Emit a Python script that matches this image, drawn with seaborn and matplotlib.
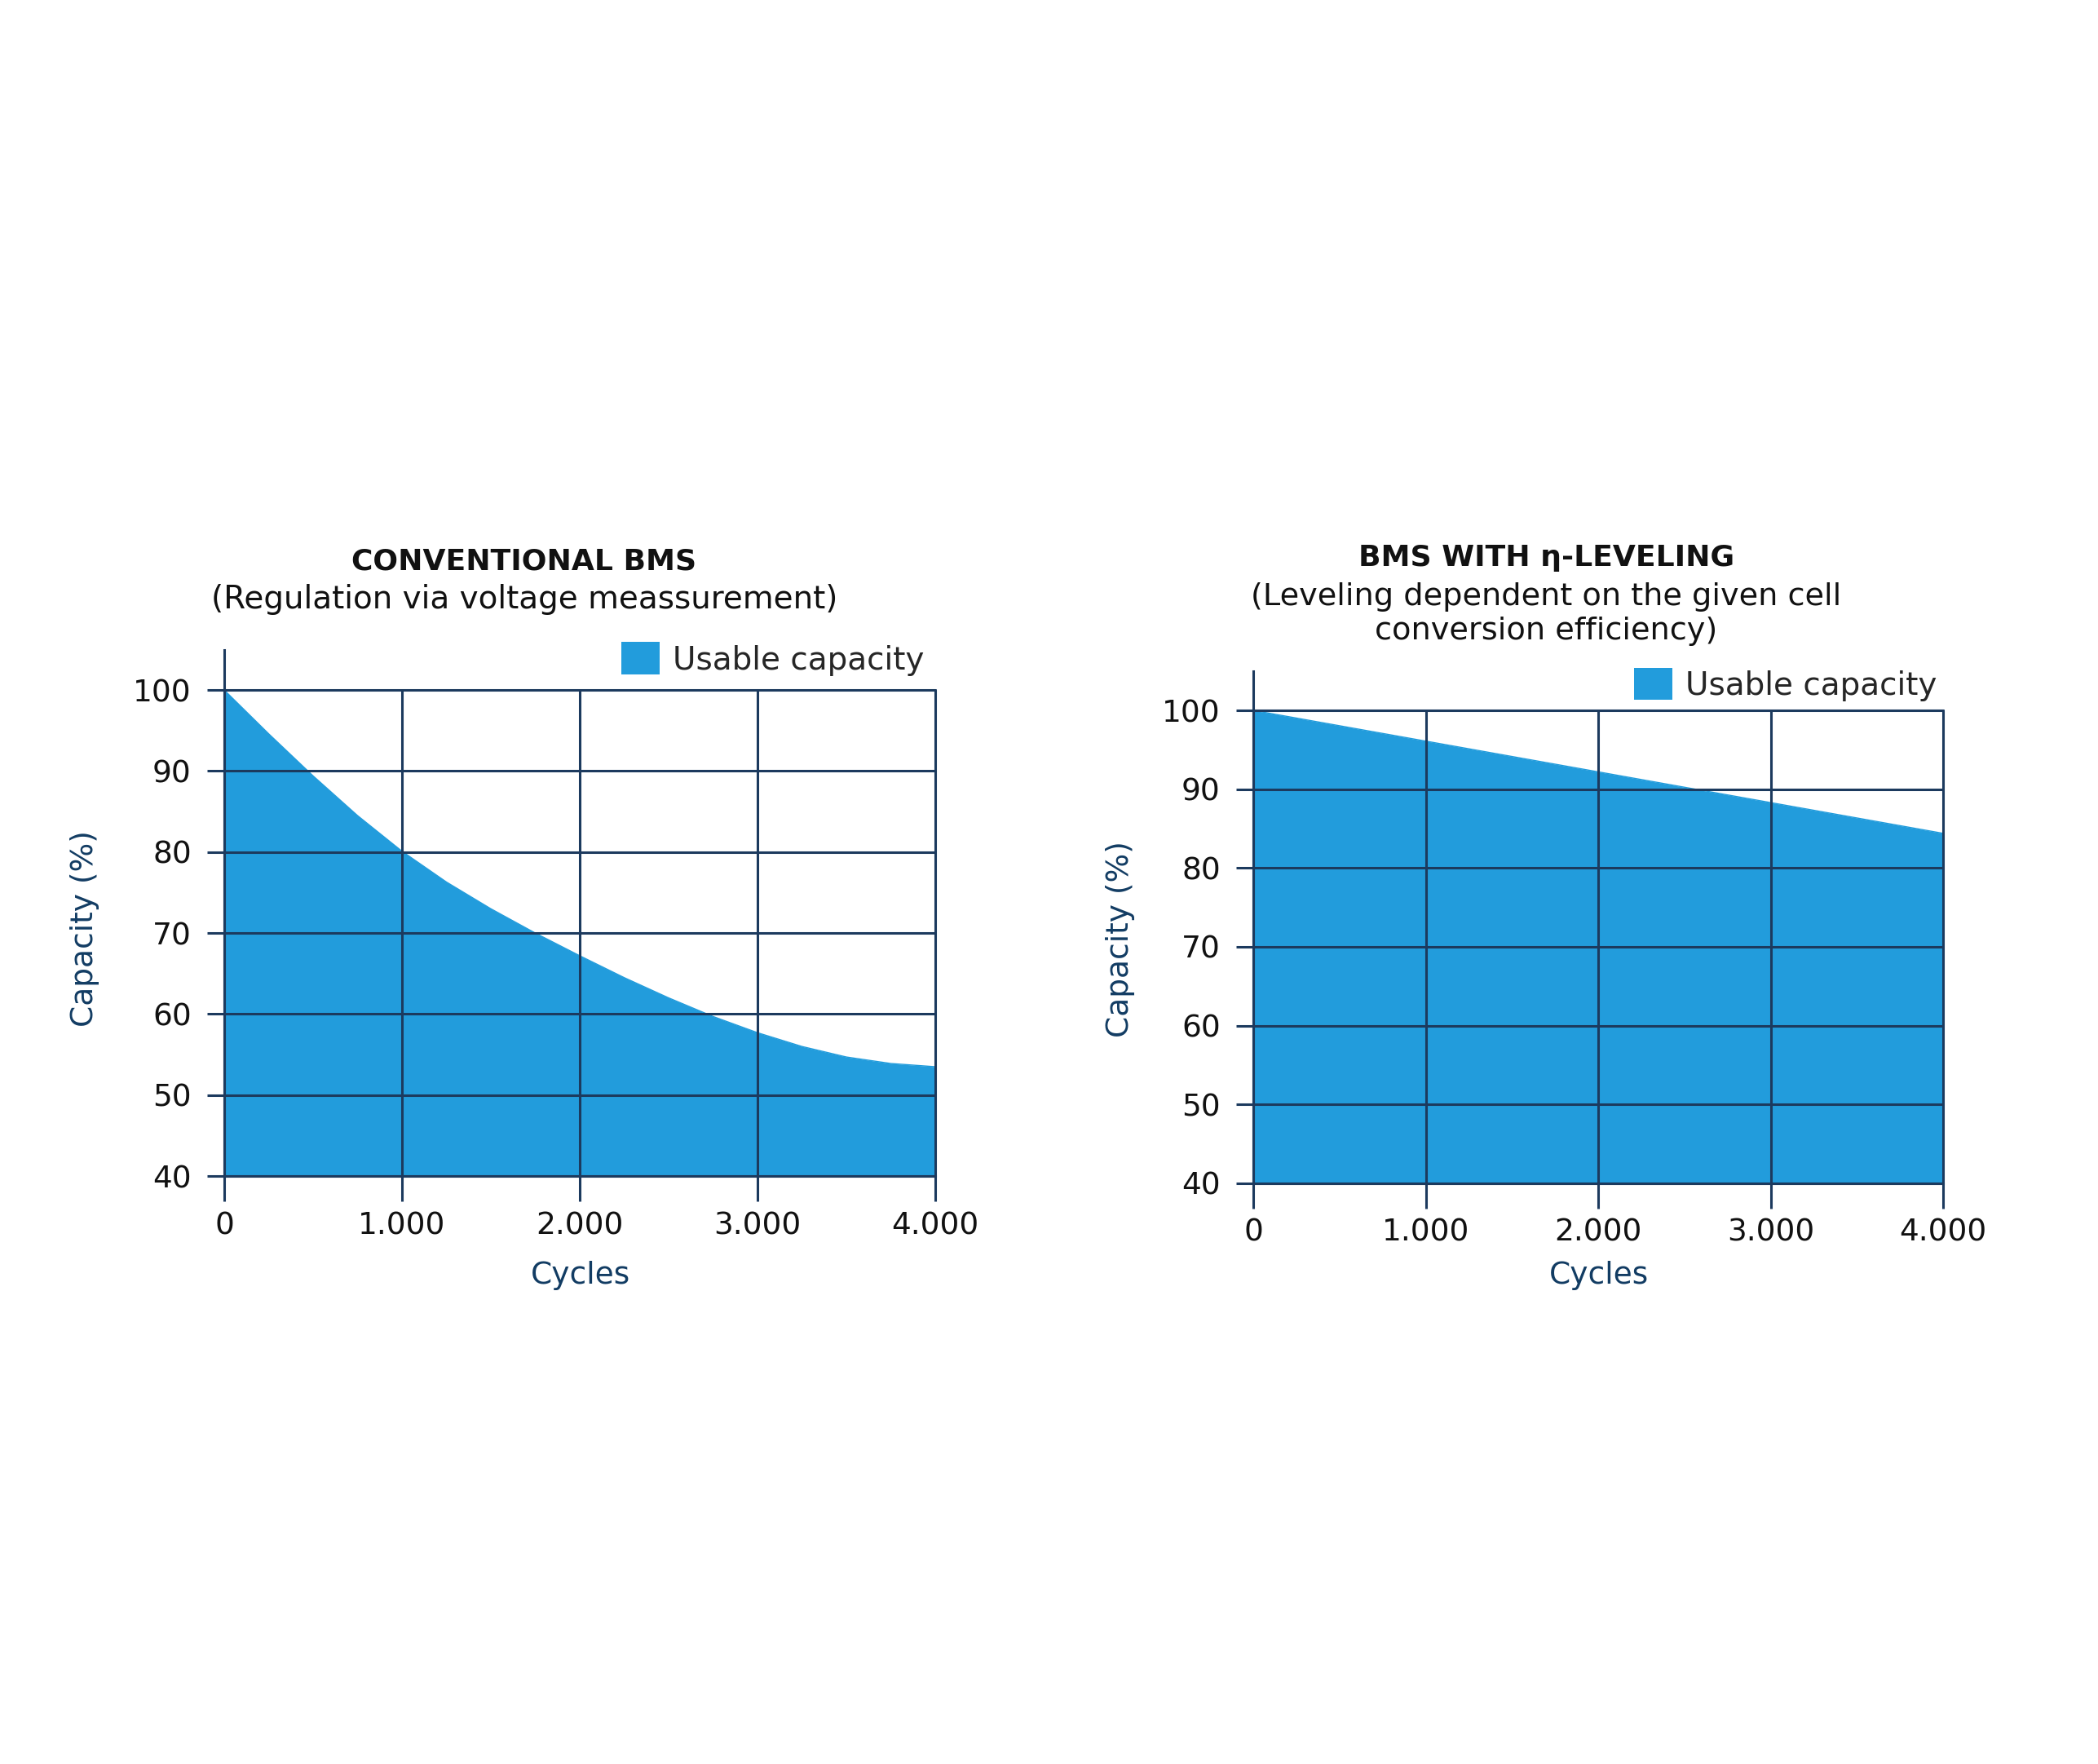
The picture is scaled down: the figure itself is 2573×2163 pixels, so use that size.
import pandas as pd
import matplotlib.pyplot as plt
import seaborn as sns
from matplotlib.patches import Patch

# data
cycles = [0, 250, 500, 750, 1000, 1250, 1500, 1750, 2000, 2250, 2500, 2750, 3000, 3250, 3500, 3750, 4000]
conventional = [100, 94.6, 89.4, 84.5, 80.1, 76.3, 73.0, 70.0, 67.2, 64.5, 62.0, 59.7, 57.7, 56.0, 54.7, 53.9, 53.5]

eta_cycles = [0, 1000, 2000, 3000, 4000]
eta_leveling = [100, 96.1, 92.2, 88.3, 84.4]

x_ticks = [0, 1000, 2000, 3000, 4000]
x_tick_labels = ["0", "1.000", "2.000", "3.000", "4.000"]
y_ticks = [40, 50, 60, 70, 80, 90, 100]

BLUE = "#229cdc"
NAVY = "#1c3a5e"
LABEL = "#123c63"

sns.set_theme(style="white")
plt.rcParams["font.family"] = ["DejaVu Sans"]

fig = plt.figure(figsize=(25.73, 21.63), dpi=100)

df_conv = pd.DataFrame({"Cycles": cycles, "Capacity": conventional})
df_eta = pd.DataFrame({"Cycles": eta_cycles, "Capacity": eta_leveling})


def draw_panel(ax, df, legend_anchor, xlab_y, ylab_xy):
    ax.fill_between(df["Cycles"], 40, df["Capacity"], color=BLUE, linewidth=0, zorder=1)
    sns.lineplot(data=df, x="Cycles", y="Capacity", ax=ax, color=BLUE, linewidth=1, zorder=1)
    ax.set_xlim(0, 4000)
    ax.set_ylim(40, 100)
    ax.set_xticks(x_ticks)
    ax.set_xticklabels(x_tick_labels)
    ax.set_yticks(y_ticks)
    ax.set_axisbelow(False)
    ax.grid(True, color=NAVY, linewidth=2.2)
    for line in ax.get_xgridlines() + ax.get_ygridlines():
        line.set_clip_on(False)
    for s in ["top", "right"]:
        ax.spines[s].set_visible(False)
    for s in ["left", "bottom"]:
        ax.spines[s].set_color(NAVY)
        ax.spines[s].set_linewidth(2.2)
    # left axis line runs a bit above the 100 line
    ax.spines["left"].set_bounds(40, 105)
    ax.tick_params(axis="x", direction="out", length=22, width=2.2, color=NAVY,
                   labelsize=27, labelcolor="#111111", pad=9, bottom=True)
    ax.tick_params(axis="y", direction="out", length=15, width=2.2, color=NAVY,
                   labelsize=27, labelcolor="#111111", pad=14, left=True)
    ax.set_xlabel("Cycles", fontsize=27, color=LABEL, va="center")
    ax.set_ylabel("Capacity (%)", fontsize=27, color=LABEL, va="center")
    ax.xaxis.set_label_coords(0.501, xlab_y)
    ax.yaxis.set_label_coords(*ylab_xy)
    ax.legend(handles=[Patch(facecolor=BLUE, edgecolor="none", label="Usable capacity")],
              loc="center right", bbox_to_anchor=legend_anchor, bbox_transform=ax.transAxes,
              frameon=False, fontsize=28, borderpad=0, borderaxespad=0,
              handlelength=1.2, handleheight=1.2, handletextpad=0.4)


ax1 = fig.add_axes([0.1069, 0.3333, 0.3389, 0.2755])
draw_panel(ax1, df_conv, (0.984, 1.064), -0.205, (-0.196, 0.51))

ax2 = fig.add_axes([0.5974, 0.3292, 0.3288, 0.2681])
draw_panel(ax2, df_eta, (0.9905, 1.055), -0.195, (-0.193, 0.516))

fig.text(0.2499, 0.6815, "CONVENTIONAL BMS", ha="center", va="center",
         fontsize=26, fontweight="bold", color="#111111")
fig.text(0.2499, 0.6602, "(Regulation via voltage meassurement)", ha="center", va="center",
         fontsize=28, color="#111111")
fig.text(0.737, 0.6838, "BMS WITH \u03b7-LEVELING", ha="center", va="center",
         fontsize=26, fontweight="bold", color="#111111")
fig.text(0.737, 0.652, "(Leveling dependent on the given cell\nconversion efficiency)",
         ha="center", va="center", fontsize=27.5, color="#111111", linespacing=1.2)

fig.savefig("out.png", dpi=100, facecolor="white")
